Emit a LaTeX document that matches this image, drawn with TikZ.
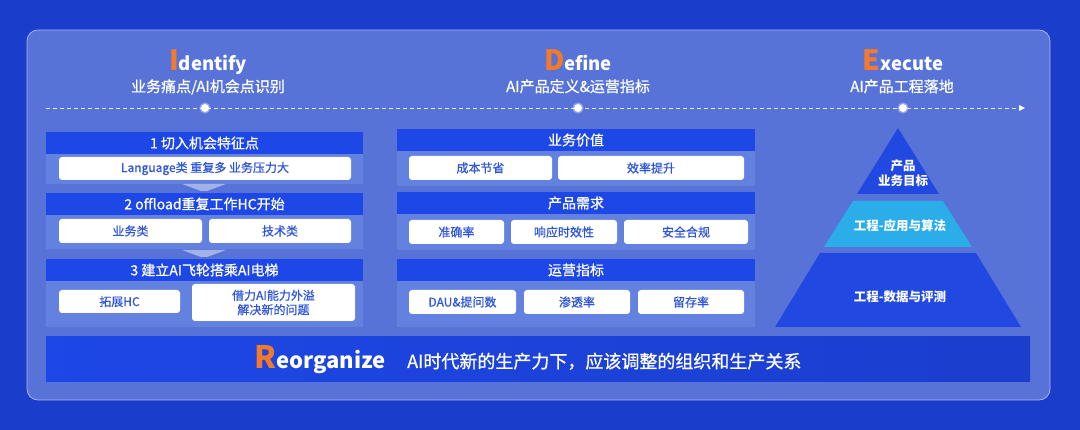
\documentclass[tikz,border=0pt]{standalone}
\usepackage{fontspec}
\setmainfont{Noto Sans CJK SC}
\newfontfamily\medfont[FakeBold=0.7]{Noto Sans CJK SC}
\usetikzlibrary{arrows.meta}
\definecolor{bgblue}{HTML}{1B3DCC}
\definecolor{panelfill}{HTML}{5773D8}
\definecolor{panelline}{HTML}{A6B5EE}
\definecolor{secbg}{HTML}{6381DE}
\definecolor{barblue}{HTML}{1D47E6}
\definecolor{boxtext}{HTML}{2E55DA}
\definecolor{accent}{HTML}{F4792B}
\definecolor{pyrblue}{HTML}{2149E2}
\definecolor{pyrcyan}{HTML}{2BADE9}
\newcommand\myfs[1]{\fontsize{#1pt}{\dimexpr#1pt*6/5\relax}\selectfont}
\begin{document}
\begin{tikzpicture}[x=1pt,y=-1pt,
  bar/.style={fill=barblue,text=white,inner sep=0,minimum height=22,font={\medfont\myfs{14}}},
  wbox/.style={fill=white,rounded corners=3,text=boxtext,inner sep=0,minimum height=23,font={\medfont\myfs{12}},align=center},
  ttl/.style={text=white,inner sep=0,anchor=base,font={\bfseries}},
  sub/.style={text=white,inner sep=0,anchor=base,font={\medfont\myfs{15}}},
  dot/.style={circle,fill=white,inner sep=0,minimum size=8,draw=white,draw opacity=0.35,line width=3},
  pyrtxt/.style={text=white,inner sep=0,font={\bfseries\myfs{12.5}},align=center},
  chev/.style={fill=white,fill opacity=0.45}]
\useasboundingbox (0,0) rectangle (1080,430);
\fill[bgblue] (0,0) rectangle (1080,430);
% panel
\draw[panelline,line width=0.8,fill=panelfill,rounded corners=11] (27,30) rectangle (1050,400);

% titles
\node[ttl] (t1) at (208,71) {\myfs{28}\textcolor{accent}{I}\myfs{18.5}dentify};
\node[ttl] (t2) at (578,71) {\myfs{28}\textcolor{accent}{D}\myfs{18.5}efine};
\node[ttl] (t3) at (903,71) {\myfs{28}\textcolor{accent}{E}\myfs{18.5}xecute};
\node[sub] (s1) at (208,92) {业务痛点/AI机会点识别};
\node[sub] (s2) at (578,92) {AI产品定义\&运营指标};
\node[sub] (s3) at (902,92) {AI产品工程落地};

% timeline
\coordinate (ls) at (46,108);
\coordinate (le) at (1025,108);
\draw[white,draw opacity=0.85,line width=0.8,dash pattern=on 4pt off 3pt,-{Triangle[length=6pt,width=6pt]}] (ls) -- (le);
\node[dot] (d1) at (205,108) {};
\node[dot] (d2) at (578,108) {};
\node[dot] (d3) at (903,108) {};

% left column
\fill[secbg] (46,132) rectangle (363,184);
\node[bar,minimum width=317] (lb1) at (204.5,143) {1 切入机会特征点};
\node[wbox,minimum width=292] (l1) at (205,168.5) {Language类 重复多 业务压力大};
\fill[chev] (182,184) -- (226,184) -- (207,191) -- (201,191) -- cycle;
\fill[secbg] (46,193) rectangle (363,249);
\node[bar,minimum width=317] (lb2) at (204.5,204) {2 offload重复工作HC开始};
\node[wbox,minimum width=143,minimum height=24] (l2a) at (130.5,231) {业务类};
\node[wbox,minimum width=142,minimum height=24] (l2b) at (280,231) {技术类};
\fill[chev] (182,250) -- (226,250) -- (207,257) -- (201,257) -- cycle;
\fill[secbg] (46,259) rectangle (363,327);
\node[bar,minimum width=317] (lb3) at (204.5,270) {3 建立AI飞轮搭乘AI电梯};
\node[wbox,minimum width=121] (l3a) at (119.5,301.5) {拓展HC};
\node[wbox,minimum width=163,minimum height=37] (l3b) at (273.5,302.5) {借力AI能力外溢\\解决新的问题};

% middle column
\fill[secbg] (397,129) rectangle (755,186);
\node[bar,minimum width=358] (mb1) at (576,140) {业务价值};
\node[wbox,minimum width=143,minimum height=24] (m1a) at (480.5,168) {成本节省};
\node[wbox,minimum width=186,minimum height=24] (m1b) at (651,168) {效率提升};
\fill[secbg] (397,192) rectangle (755,250);
\node[bar,minimum width=358] (mb2) at (576,203) {产品需求};
\node[wbox,minimum width=95,minimum height=24] (m2a) at (456.5,232) {准确率};
\node[wbox,minimum width=106,minimum height=24] (m2b) at (564,232) {响应时效性};
\node[wbox,minimum width=124,minimum height=24] (m2c) at (686,232) {安全合规};
\fill[secbg] (397,259) rectangle (755,327);
\node[bar,minimum width=358] (mb3) at (576,270) {运营指标};
\node[wbox,minimum width=107,minimum height=24] (m3a) at (462.5,302) {DAU\&提问数};
\node[wbox,minimum width=106,minimum height=24] (m3b) at (577,302) {渗透率};
\node[wbox,minimum width=106,minimum height=24] (m3c) at (691,302) {留存率};

% pyramid
\fill[pyrblue] (898,128) -- (939,194) -- (857,194) -- cycle;
\fill[pyrcyan] (853,201) -- (943,201) -- (972,247) -- (824,247) -- cycle;
\fill[pyrblue] (820,253) -- (976,253) -- (1021,327) -- (775,327) -- cycle;
\node[pyrtxt] (p1) at (903,173) {产品\\业务目标};
\node[pyrtxt] (p2) at (900,226) {工程-应用与算法};
\node[pyrtxt] (p3) at (900,297) {工程-数据与评测};

% reorganize bar
\shade[left color=barblue,right color=bgblue!95!barblue] (46,337) rectangle (1030,382);
\node[ttl,anchor=base west] (r1) at (254,369) {\myfs{31}\textcolor{accent}{R}\myfs{22}eorganize};
\node[sub,anchor=base west,font={\medfont\myfs{18}}] (r2) at (407,368) {AI时代新的生产力下，应该调整的组织和生产关系};
\end{tikzpicture}
\end{document}
